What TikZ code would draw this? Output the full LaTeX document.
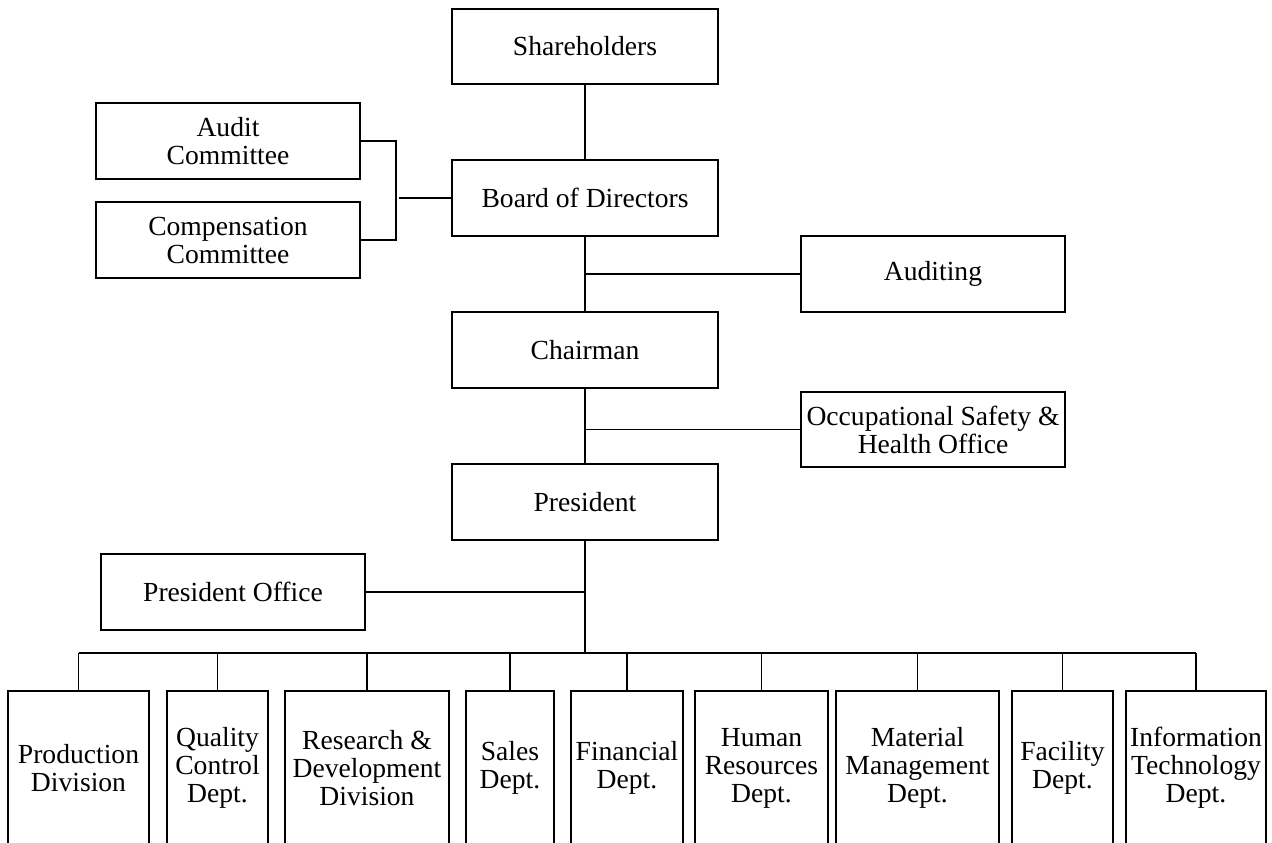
\documentclass[tikz,border=0pt]{standalone}
\usepackage{fontspec}
\setmainfont{Liberation Serif}
\usetikzlibrary{positioning, calc}

\begin{document}
\begin{tikzpicture}
  [
  x=0.5pt, y=-0.5pt,
  % block
  block/.style = {rectangle,
    draw, line width=0.8pt,
    align=center, inner sep=0pt,
    minimum height = 38pt,
    minimum width = 133pt,
    font=\fontsize{13.8}{14}\selectfont},
  % department
  dept/.style = {block,
    minimum height = 77pt},
  % line
  line/.style = {draw, line width=0.8pt},
  ]

  \useasboundingbox (0,0) rectangle (1272,842);
  \clip (0,0) rectangle (1272,842);

  % nodes
  \node [block, minimum height=37.5pt] (share) at (585,46.5) {Shareholders};
  \node [block] (board) at (585,198) {Board of Directors};
  \node [block] (chair) at (585,350) {Chairman};
  \node [block] (pres) at (585,502) {President};
  \node [block, minimum width=132pt] (audit) at (228,141) {Audit\\Committee};
  \node [block, minimum width=132pt] (comp) at (228,240) {Compensation\\Committee};
  \node [block, minimum width=132pt] (auditing) at (933,274) {Auditing};
  \node [block, minimum width=132pt, minimum height=37.5pt] (osho) at (933,429.5) {Occupational Safety \&\\Health Office};
  \node [block, minimum width=132pt] (poff) at (233,592) {President Office};

  % departments
  \node [dept, minimum width=70.5pt] (prod) at (78.5,768) {Production\\Division};
  \node [dept, minimum width=50.5pt] (qc) at (217.5,768) {Quality\\Control\\Dept.};
  \node [dept, minimum width=82pt] (rd) at (367,768) {Research \&\\Development\\Division};
  \node [dept, minimum width=44pt] (sales) at (510,768) {Sales\\Dept.};
  \node [dept, minimum width=56pt] (fin) at (627,768) {Financial\\Dept.};
  \node [dept, minimum width=66.5pt] (hr) at (761.5,768) {Human\\Resources\\Dept.};
  \node [dept, minimum width=81.5pt] (mm) at (917.5,768) {Material\\Management\\Dept.};
  \node [dept, minimum width=50.5pt] (fac) at (1062.5,768) {Facility\\Dept.};
  \node [dept, minimum width=70pt] (it) at (1196,768) {Information\\Technology\\Dept.};

  \coordinate (brk) at (396,198);
  \coordinate (bus) at (585,653);

  % path
  \path [line] (share) -- (board);
  \path [line] (audit.east) -| (brk) |- (comp.east);
  \path [line, shorten >=1.5pt] (board.west) -- (brk);
  \path [line] (board) -- (chair);
  \path [line] (auditing.west) -- (auditing.west -| board.south);
  \path [line] (chair) -- (pres);
  \path [line] (osho.west) -- (osho.west -| chair.south);
  \path [line] (pres.south) -- (bus);
  \path [line] (poff.east) -- (poff.east -| pres.south);
  \path [line] (prod.north |- bus) -- (it.north |- bus);
  \foreach \d in {prod, qc, rd, sales, fin, hr, mm, fac, it}
    \path [line] (\d.north) -- (\d.north |- bus);

\end{tikzpicture}
\end{document}
